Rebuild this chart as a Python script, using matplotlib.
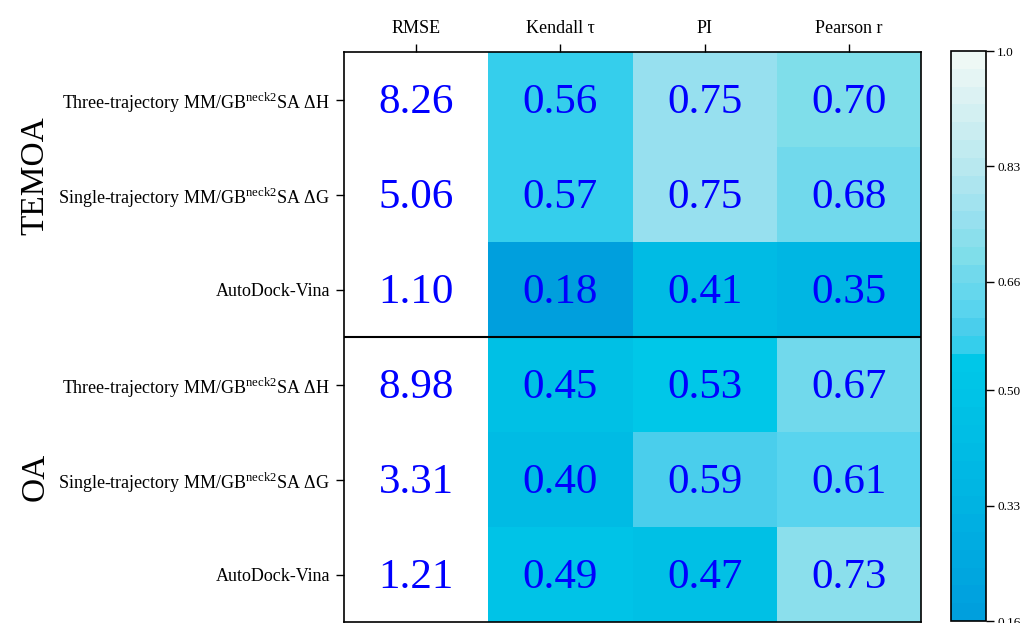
import numpy as np
import matplotlib
matplotlib.use("Agg")
import matplotlib.pyplot as plt
from matplotlib.colors import LinearSegmentedColormap, ListedColormap, BoundaryNorm

plt.rcParams["font.family"] = ["Liberation Serif", "DejaVu Serif"]
plt.rcParams["mathtext.fontset"] = "custom"
plt.rcParams["mathtext.rm"] = "Liberation Serif"

metrics = ["RMSE", "Kendall τ", "PI", "Pearson r"]
methods = [
    r"Three-trajectory MM/GB$^{\mathrm{neck2}}$SA ΔH",
    r"Single-trajectory MM/GB$^{\mathrm{neck2}}$SA ΔG",
    "AutoDock-Vina",
]
groups = ["TEMOA", "OA"]

temoa_rmse = [8.26, 5.06, 1.10]
temoa_kendall = [0.56, 0.57, 0.18]
temoa_pi = [0.75, 0.75, 0.41]
temoa_pearson = [0.70, 0.68, 0.35]

oa_rmse = [8.98, 3.31, 1.21]
oa_kendall = [0.45, 0.40, 0.49]
oa_pi = [0.53, 0.59, 0.47]
oa_pearson = [0.67, 0.61, 0.73]

cbar_ticks = [0.16, 0.33, 0.50, 0.66, 0.83, 1.0]
cbar_labels = ["0.16", "0.33", "0.50", "0.66", "0.83", "1.0"]

table = np.array([
    np.r_[temoa_rmse, oa_rmse],
    np.r_[temoa_kendall, oa_kendall],
    np.r_[temoa_pi, oa_pi],
    np.r_[temoa_pearson, oa_pearson],
]).T                                    # rows: methods, cols: metrics

# RMSE is not on the 0-1 scale, so it stays uncoloured
colour_vals = np.ma.masked_array(table, mask=np.zeros_like(table, dtype=bool))
colour_vals.mask[:, 0] = True

# stepped sky-blue scale: smooth blue up to ~0.55, then lighter cyan to white
vmin, vmax = 0.16, 1.0
anchors = [
    (0.16, "#009edc"), (0.18, "#00a0de"), (0.35, "#00b5e3"), (0.45, "#00bfe5"),
    (0.50, "#00c4e7"), (0.553, "#00c8e8"), (0.556, "#2bcfec"), (0.59, "#48cdec"),
    (0.61, "#55d3ee"), (0.67, "#70d9ec"), (0.70, "#80deea"), (0.75, "#97e0ef"),
    (0.83, "#b8e8ef"), (1.0, "#f2f9f5"),
]
smooth = LinearSegmentedColormap.from_list(
    "sky", [((v - vmin) / (vmax - vmin), c) for v, c in anchors], N=1024)
levels = np.linspace(vmin, vmax, 33)
centres = (levels[:-1] + levels[1:]) / 2
cmap = ListedColormap(smooth((centres - vmin) / (vmax - vmin)))
cmap.set_bad("white")
norm = BoundaryNorm(levels, cmap.N)

fig = plt.figure(figsize=(10.26, 6.23), dpi=100)
ax = fig.add_axes([0.3353, 0.0016, 0.5624, 0.9149])
cax = fig.add_axes([0.9269, 0.0032, 0.0341, 0.9149])

n_rows, n_cols = table.shape
mesh = ax.pcolormesh(np.arange(n_cols + 1), np.arange(n_rows + 1), colour_vals,
                     cmap=cmap, norm=norm)
ax.set_xlim(0, n_cols)
ax.set_ylim(n_rows, 0)

for i in range(n_rows):
    for j in range(n_cols):
        ax.text(j + 0.5, i + 0.53, f"{table[i, j]:.2f}", ha="center", va="center",
                color="#0000ff", fontsize=31)

ax.axhline(3, color="black", lw=1.5)

ax.set_xticks(np.arange(n_cols) + 0.5)
ax.set_xticklabels(metrics, fontsize=13)
ax.xaxis.tick_top()
ax.set_yticks(np.arange(n_rows) + 0.5)
ax.set_yticklabels(methods * 2, fontsize=13)
ax.tick_params(direction="out", length=6, width=1, pad=4)
ax.tick_params(axis="x", pad=5)
for s in ax.spines.values():
    s.set_linewidth(1.2)

for g, y in zip(groups, [0.7175, 0.2343]):
    fig.text(0.034, y, g, rotation=90, ha="center", va="center", fontsize=24)

cb = fig.colorbar(mesh, cax=cax, ticks=cbar_ticks)
cb.ax.set_yticklabels(cbar_labels, fontsize=9.5)
cb.ax.minorticks_off()
cb.ax.tick_params(direction="out", length=6, width=1, pad=2)
cb.outline.set_linewidth(1.2)

fig.savefig("out.png", dpi=100)
